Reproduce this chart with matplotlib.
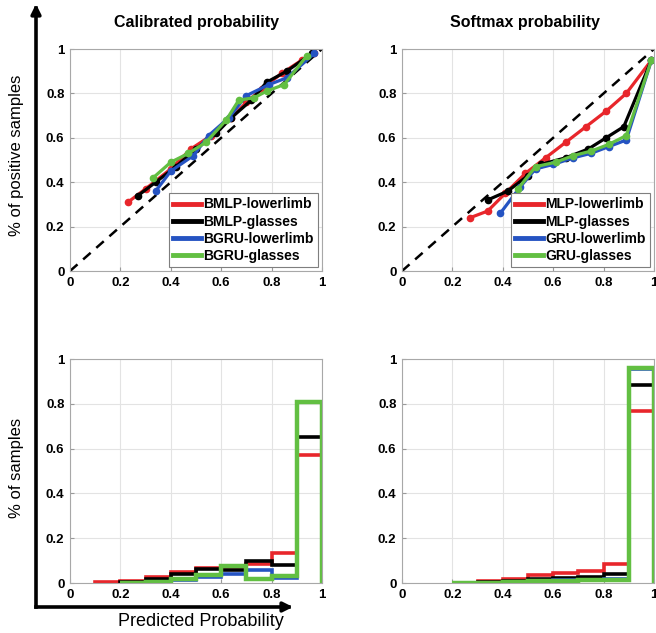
import numpy as np
import matplotlib
matplotlib.use("Agg")
import matplotlib.pyplot as plt
from matplotlib.patches import FancyArrowPatch

plt.rcParams['font.family'] = ['Liberation Sans', 'DejaVu Sans']

# ---- reliability curves (predicted prob, fraction of positives) ----
cal_names = ['BMLP-lowerlimb', 'BMLP-glasses', 'BGRU-lowerlimb', 'BGRU-glasses']
cal_x = [
    [0.23, 0.30, 0.40, 0.48, 0.56, 0.64, 0.70, 0.76, 0.84, 0.92, 0.97],
    [0.27, 0.34, 0.42, 0.50, 0.58, 0.64, 0.72, 0.78, 0.86, 0.96],
    [0.34, 0.40, 0.49, 0.55, 0.63, 0.70, 0.79, 0.86, 0.97],
    [0.33, 0.40, 0.47, 0.54, 0.62, 0.67, 0.73, 0.78, 0.85, 0.94],
]
cal_y = [
    [0.31, 0.37, 0.46, 0.55, 0.61, 0.69, 0.76, 0.82, 0.89, 0.95, 0.98],
    [0.34, 0.40, 0.47, 0.55, 0.62, 0.69, 0.77, 0.85, 0.90, 0.98],
    [0.36, 0.45, 0.52, 0.61, 0.69, 0.79, 0.84, 0.87, 0.98],
    [0.42, 0.49, 0.53, 0.58, 0.68, 0.77, 0.78, 0.81, 0.84, 0.97],
]

soft_names = ['MLP-lowerlimb', 'MLP-glasses', 'GRU-lowerlimb', 'GRU-glasses']
soft_x = [
    [0.27, 0.34, 0.41, 0.49, 0.57, 0.65, 0.73, 0.81, 0.89, 0.99],
    [0.34, 0.42, 0.50, 0.55, 0.65, 0.74, 0.81, 0.88, 0.99],
    [0.39, 0.47, 0.53, 0.60, 0.68, 0.75, 0.82, 0.89, 0.99],
    [0.46, 0.53, 0.61, 0.68, 0.75, 0.82, 0.89, 0.99],
]
soft_y = [
    [0.24, 0.27, 0.35, 0.44, 0.51, 0.58, 0.65, 0.72, 0.80, 0.95],
    [0.32, 0.36, 0.43, 0.48, 0.51, 0.55, 0.60, 0.65, 0.95],
    [0.26, 0.38, 0.46, 0.48, 0.51, 0.53, 0.56, 0.59, 0.95],
    [0.37, 0.47, 0.49, 0.52, 0.54, 0.57, 0.61, 0.95],
]

# ---- histograms: first bin edge and bar heights (bin width 0.1) ----
cal_hist_start = [0.1, 0.2, 0.2, 0.2]
cal_hist = [
    [0.003, 0.008, 0.026, 0.047, 0.068, 0.072, 0.087, 0.132, 0.57],
    [0.004, 0.018, 0.038, 0.063, 0.057, 0.100, 0.082, 0.65],
    [0.002, 0.004, 0.012, 0.027, 0.042, 0.058, 0.022, 0.81],
    [0.001, 0.004, 0.018, 0.034, 0.078, 0.018, 0.030, 0.81],
]
soft_hist_start = [0.2, 0.2, 0.2, 0.2]
soft_hist = [
    [0.002, 0.008, 0.017, 0.035, 0.043, 0.052, 0.084, 0.77],
    [0.001, 0.004, 0.008, 0.020, 0.023, 0.027, 0.038, 0.885],
    [0.000, 0.002, 0.004, 0.010, 0.012, 0.015, 0.018, 0.955],
    [0.000, 0.001, 0.003, 0.008, 0.010, 0.012, 0.015, 0.96],
]

colors = ['#e8262b', '#000000', '#2553c2', '#62bf42']
ticks = [0, 0.2, 0.4, 0.6, 0.8, 1]
tick_labels = ['0', '0.2', '0.4', '0.6', '0.8', '1']

W, H = 656, 633
fig = plt.figure(figsize=(W / 100, H / 100), dpi=100)


def box(x0, x1, y_top, y_bot):
    return [x0 / W, 1 - y_bot / H, (x1 - x0) / W, (y_bot - y_top) / H]


def style(ax):
    ax.set_xlim(0, 1)
    ax.set_ylim(0, 1)
    ax.set_xticks(ticks)
    ax.set_yticks(ticks)
    ax.set_xticklabels(tick_labels, fontweight='bold', fontsize=9.5)
    ax.set_yticklabels(tick_labels, fontweight='bold', fontsize=9.5)
    ax.grid(True, color='#e3e3e3', lw=0.8)
    ax.set_axisbelow(True)
    ax.tick_params(direction='in', length=3, color='#999999', pad=4)
    for s in ax.spines.values():
        s.set_color('#a8a8a8')
        s.set_linewidth(0.8)


ax1 = fig.add_axes(box(70, 322, 49, 271))
ax2 = fig.add_axes(box(402, 654, 49, 271))
ax3 = fig.add_axes(box(70, 322, 359, 583))
ax4 = fig.add_axes(box(402, 654, 359, 583))

for ax, xs, ys, names in [(ax1, cal_x, cal_y, cal_names), (ax2, soft_x, soft_y, soft_names)]:
    style(ax)
    ax.plot([0, 1], [0, 1], '--', color='black', lw=1.8, dashes=(4, 3))
    for i in range(4):
        ax.plot(xs[i], ys[i], '-o', color=colors[i], lw=2.3, ms=4.5, label=names[i])
    leg = ax.legend(loc='lower right', prop={'weight': 'bold', 'size': 10}, handlelength=2.0,
                    handletextpad=0.2, labelspacing=0.22, borderpad=0.3, fancybox=False,
                    framealpha=1, edgecolor='#7f7f7f', borderaxespad=0.3)
    leg.get_frame().set_linewidth(0.8)
    for h in leg.get_lines():
        h.set_linewidth(3.5)
        h.set_marker('')

for ax, starts, hists in [(ax3, cal_hist_start, cal_hist), (ax4, soft_hist_start, soft_hist)]:
    style(ax)
    for i in range(4):
        edges = starts[i] + 0.1 * np.arange(len(hists[i]) + 1)
        ax.stairs(hists[i], edges, color=colors[i], lw=3.2 if i == 3 else 2.6, baseline=0)

fig.text(196 / W, 1 - 22 / H, 'Calibrated probability', ha='center', va='center',
         fontweight='bold', fontsize=11.5)
fig.text(525 / W, 1 - 22 / H, 'Softmax probability', ha='center', va='center',
         fontweight='bold', fontsize=11.5)

fig.text(17 / W, 1 - 155 / H, '% of positive samples', rotation=90, ha='center', va='center',
         fontsize=12)
fig.text(17 / W, 1 - 468 / H, '% of samples', rotation=90, ha='center', va='center',
         fontsize=12)
fig.text(201 / W, 1 - 621 / H, 'Predicted Probability', ha='center', va='center',
         fontsize=13)

# big corner arrows
corner = (36 / W, 1 - 607 / H)
for tip in [(36 / W, 1 - 4 / H), (293 / W, 1 - 607 / H)]:
    fig.add_artist(FancyArrowPatch(corner, tip, transform=fig.transFigure, arrowstyle='-|>',
                                   mutation_scale=14, lw=2.6, color='black',
                                   shrinkA=0, shrinkB=0, capstyle='projecting'))

fig.savefig('out.png', dpi=100)
